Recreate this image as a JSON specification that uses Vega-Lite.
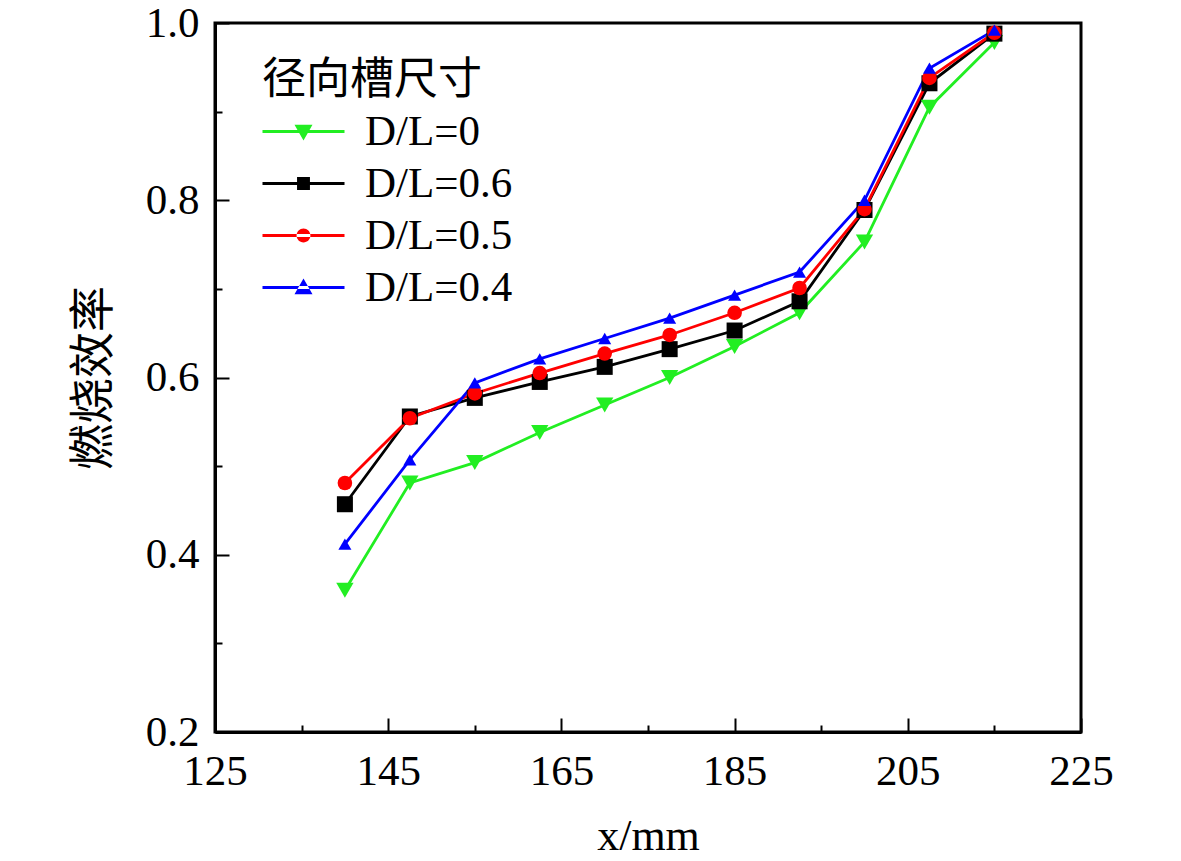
{
  "$schema": "https://vega.github.io/schema/vega-lite/v6.json",
  "width": 866,
  "height": 709,
  "autosize": "none",
  "padding": {"left": 215, "top": 23, "right": 100, "bottom": 129},
  "background": "white",
  "config": {
    "view": {"stroke": "black", "strokeWidth": 3},
    "font": "Liberation Serif, Noto Sans CJK SC",
    "axis": {
      "grid": false,
      "domainColor": "black",
      "domainWidth": 3,
      "tickColor": "black",
      "tickWidth": 2,
      "labelFont": "Liberation Serif, Noto Sans CJK SC",
      "labelFontSize": 43,
      "labelColor": "black",
      "labelOverlap": false,
      "labelFlush": false,
      "titleFont": "Liberation Serif, Noto Sans CJK SC",
      "titleFontSize": 44,
      "titleFontWeight": "normal",
      "titleColor": "black"
    },
    "legend": {
      "labelFont": "Liberation Serif, Noto Sans CJK SC",
      "labelFontSize": 43,
      "labelColor": "black",
      "titleFont": "Liberation Serif, Noto Sans CJK SC",
      "titleFontSize": 44,
      "titleFontWeight": "normal",
      "titleColor": "black",
      "titleLimit": 500,
      "labelLimit": 500
    }
  },
  "data": {
    "values": [
      {"x": 140, "y": 0.360, "s": "D/L=0"},
      {"x": 147.5, "y": 0.481, "s": "D/L=0"},
      {"x": 155, "y": 0.504, "s": "D/L=0"},
      {"x": 162.5, "y": 0.538, "s": "D/L=0"},
      {"x": 170, "y": 0.569, "s": "D/L=0"},
      {"x": 177.5, "y": 0.600, "s": "D/L=0"},
      {"x": 185, "y": 0.635, "s": "D/L=0"},
      {"x": 192.5, "y": 0.673, "s": "D/L=0"},
      {"x": 200, "y": 0.753, "s": "D/L=0"},
      {"x": 207.5, "y": 0.905, "s": "D/L=0"},
      {"x": 215, "y": 0.978, "s": "D/L=0"},
      {"x": 140, "y": 0.457, "s": "D/L=0.6"},
      {"x": 147.5, "y": 0.556, "s": "D/L=0.6"},
      {"x": 155, "y": 0.577, "s": "D/L=0.6"},
      {"x": 162.5, "y": 0.595, "s": "D/L=0.6"},
      {"x": 170, "y": 0.612, "s": "D/L=0.6"},
      {"x": 177.5, "y": 0.632, "s": "D/L=0.6"},
      {"x": 185, "y": 0.653, "s": "D/L=0.6"},
      {"x": 192.5, "y": 0.686, "s": "D/L=0.6"},
      {"x": 200, "y": 0.789, "s": "D/L=0.6"},
      {"x": 207.5, "y": 0.932, "s": "D/L=0.6"},
      {"x": 215, "y": 0.988, "s": "D/L=0.6"},
      {"x": 140, "y": 0.481, "s": "D/L=0.5"},
      {"x": 147.5, "y": 0.554, "s": "D/L=0.5"},
      {"x": 155, "y": 0.582, "s": "D/L=0.5"},
      {"x": 162.5, "y": 0.605, "s": "D/L=0.5"},
      {"x": 170, "y": 0.627, "s": "D/L=0.5"},
      {"x": 177.5, "y": 0.648, "s": "D/L=0.5"},
      {"x": 185, "y": 0.673, "s": "D/L=0.5"},
      {"x": 192.5, "y": 0.701, "s": "D/L=0.5"},
      {"x": 200, "y": 0.790, "s": "D/L=0.5"},
      {"x": 207.5, "y": 0.938, "s": "D/L=0.5"},
      {"x": 215, "y": 0.989, "s": "D/L=0.5"},
      {"x": 140, "y": 0.412, "s": "D/L=0.4"},
      {"x": 147.5, "y": 0.507, "s": "D/L=0.4"},
      {"x": 155, "y": 0.594, "s": "D/L=0.4"},
      {"x": 162.5, "y": 0.621, "s": "D/L=0.4"},
      {"x": 170, "y": 0.644, "s": "D/L=0.4"},
      {"x": 177.5, "y": 0.667, "s": "D/L=0.4"},
      {"x": 185, "y": 0.693, "s": "D/L=0.4"},
      {"x": 192.5, "y": 0.719, "s": "D/L=0.4"},
      {"x": 200, "y": 0.800, "s": "D/L=0.4"},
      {"x": 207.5, "y": 0.949, "s": "D/L=0.4"},
      {"x": 215, "y": 0.992, "s": "D/L=0.4"}
    ]
  },
  "encoding": {
    "x": {
      "field": "x",
      "type": "quantitative",
      "scale": {"domain": [125, 225], "nice": false, "zero": false},
      "axis": {
        "title": "x/mm",
        "values": [125, 135, 145, 155, 165, 175, 185, 195, 205, 215, 225],
        "labelExpr": "datum.value % 20 == 5 ? datum.label : ''",
        "tickSize": {"condition": {"test": "datum.value % 20 == 5", "value": -14}, "value": -7},
        "labelPadding": 32,
        "titlePadding": 14
      }
    },
    "y": {
      "field": "y",
      "type": "quantitative",
      "scale": {"domain": [0.2, 1.0], "nice": false, "zero": false},
      "axis": {
        "title": "燃烧效率",
        "titleFontSize": 46,
        "values": [0.2, 0.3, 0.4, 0.5, 0.6, 0.7, 0.8, 0.9, 1.0],
        "format": ".1f",
        "labelExpr": "round(datum.value * 10) % 2 == 0 ? datum.label : ''",
        "tickSize": {"condition": {"test": "round(datum.value * 10) % 2 == 0", "value": -14}, "value": -7},
        "labelPadding": 30,
        "titlePadding": 28
      }
    }
  },
  "layer": [
    {
      "mark": {"type": "line", "strokeWidth": 2.8},
      "encoding": {
        "color": {
          "field": "s",
          "type": "nominal",
          "scale": {"domain": ["D/L=0", "D/L=0.6", "D/L=0.5", "D/L=0.4"], "range": ["#22ee22", "#000000", "#ff0000", "#0000ff"]},
          "legend": null
        }
      }
    },
    {
      "mark": {"type": "point", "filled": true, "opacity": 1},
      "encoding": {
        "color": {
          "field": "s",
          "type": "nominal",
          "scale": {"domain": ["D/L=0", "D/L=0.6", "D/L=0.5", "D/L=0.4"], "range": ["#22ee22", "#000000", "#ff0000", "#0000ff"]},
          "legend": null
        },
        "shape": {
          "field": "s",
          "type": "nominal",
          "scale": {"domain": ["D/L=0", "D/L=0.6", "D/L=0.5", "D/L=0.4"], "range": ["triangle-down", "square", "circle", "triangle-up"]},
          "legend": null
        },
        "size": {
          "field": "s",
          "type": "nominal",
          "scale": {"domain": ["D/L=0", "D/L=0.6", "D/L=0.5", "D/L=0.4"], "range": [300, 170, 190, 300]},
          "legend": null
        }
      }
    },
    {
      "transform": [{"filter": "false"}],
      "mark": {"type": "point", "filled": true, "opacity": 1},
      "encoding": {
        "color": {
          "field": "s",
          "type": "nominal",
          "scale": {"domain": ["D/L=0", "D/L=0.6", "D/L=0.5", "D/L=0.4"], "range": ["#22ee22", "#000000", "#ff0000", "#0000ff"]},
          "legend": {
            "title": "径向槽尺寸",
            "orient": "none",
            "legendX": 47,
            "legendY": 36,
            "titlePadding": 7,
            "rowPadding": 8,
            "labelOffset": 60,
            "symbolSize": 900,
            "symbolStrokeWidth": 0
          }
        },
        "shape": {
          "field": "s",
          "type": "nominal",
          "scale": {
            "domain": ["D/L=0", "D/L=0.6", "D/L=0.5", "D/L=0.4"],
            "range": [
              "M-1.4,-0.1L4.067,-0.1L4.067,0.1L-1.4,0.1Z M0.733,-0.45L1.933,-0.45L1.333,0.6Z",
              "M-1.4,-0.1L4.067,-0.1L4.067,0.1L-1.4,0.1Z M0.903,-0.43L1.763,-0.43L1.763,0.43L0.903,0.43Z",
              "M-1.4,-0.1L4.067,-0.1L4.067,0.1L-1.4,0.1Z M0.873,0A0.46,0.46 0 1,0 1.793,0A0.46,0.46 0 1,0 0.873,0Z",
              "M-1.4,-0.1L4.067,-0.1L4.067,0.1L-1.4,0.1Z M0.733,0.45L1.933,0.45L1.333,-0.6Z"
            ]
          },
          "legend": {
            "title": "径向槽尺寸",
            "orient": "none",
            "legendX": 47,
            "legendY": 36,
            "titlePadding": 7,
            "rowPadding": 8,
            "labelOffset": 60,
            "symbolSize": 900,
            "symbolStrokeWidth": 0
          }
        }
      }
    }
  ],
  "resolve": {"scale": {"color": "independent", "shape": "independent", "size": "independent"}}
}
